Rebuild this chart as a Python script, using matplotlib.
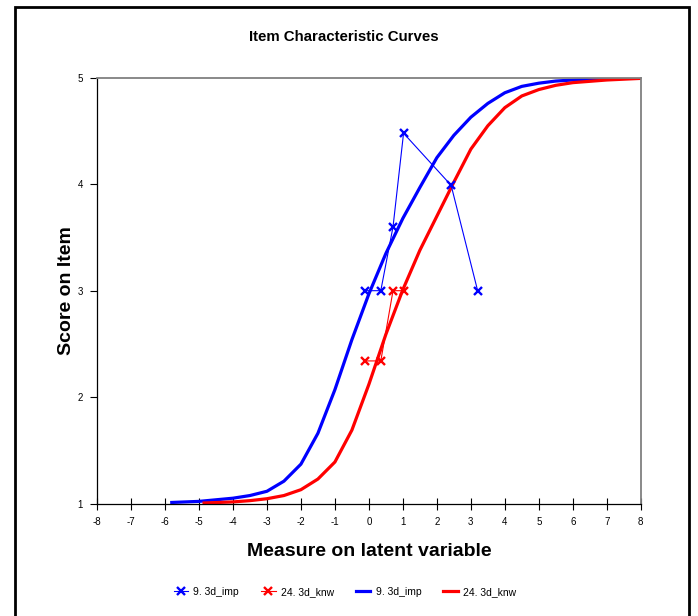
import matplotlib

matplotlib.use("Agg")
import matplotlib.pyplot as plt
from matplotlib.patches import Rectangle

plt.rcParams["font.family"] = ["Liberation Sans", "DejaVu Sans"]
plt.rcParams["axes.unicode_minus"] = False

# observed item scores (crosses joined by thin lines)
obs_imp_x = [-0.1, 0.35, 0.71, 1.02, 2.42, 3.2]
obs_imp_y = [3.0, 3.0, 3.6, 4.48, 3.99, 3.0]
obs_knw_x = [-0.1, 0.35, 0.71, 1.02]
obs_knw_y = [2.34, 2.34, 3.0, 3.0]

# model expected-score curves
icc_imp_x = [-5.8, -5, -4.5, -4, -3.5, -3, -2.5, -2, -1.5, -1, -0.5, 0, 0.5,
             1, 1.5, 2, 2.5, 3, 3.5, 4, 4.5, 5, 5.5, 6, 7, 8]
icc_imp_y = [1.01, 1.02, 1.035, 1.05, 1.075, 1.115, 1.21, 1.37, 1.66, 2.07, 2.54,
             2.97, 3.35, 3.68, 3.97, 4.25, 4.46, 4.63, 4.76, 4.86, 4.92, 4.95,
             4.97, 4.98, 4.995, 5.0]
icc_knw_x = [-4.85, -4, -3.5, -3, -2.5, -2, -1.5, -1, -0.5, 0, 0.5, 1, 1.5, 2,
             2.5, 3, 3.5, 4, 4.5, 5, 5.5, 6, 7, 8]
icc_knw_y = [1.005, 1.015, 1.027, 1.045, 1.075, 1.13, 1.23, 1.39, 1.69, 2.12, 2.59,
             3.01, 3.38, 3.70, 4.02, 4.33, 4.55, 4.72, 4.83, 4.89, 4.93, 4.955,
             4.98, 4.995]

x_ticks = list(range(-8, 9))
y_ticks = [1, 2, 3, 4, 5]
label_imp = "9. 3d_imp"
label_knw = "24. 3d_knw"

fig = plt.figure(figsize=(6.98, 6.16), dpi=100)
ax = fig.add_axes([0.139, 0.1826, 0.779, 0.691])

ax.plot(icc_imp_x, icc_imp_y, color="#0000ff", lw=2.3, label=label_imp, zorder=2)
ax.plot(icc_knw_x, icc_knw_y, color="#ff0000", lw=2.3, label=label_knw, zorder=2)
h1, = ax.plot(obs_imp_x, obs_imp_y, color="#0000ff", lw=0.8, marker="x", ms=5.5,
              mew=1.7, label=label_imp, zorder=3)
h2, = ax.plot(obs_knw_x, obs_knw_y, color="#ff0000", lw=0.8, marker="x", ms=5.5,
              mew=1.7, label=label_knw, zorder=3)

ax.set_xlim(-8, 8)
ax.set_ylim(1, 5)
ax.set_xticks(x_ticks)
ax.set_yticks(y_ticks)
ax.tick_params(axis="x", direction="inout", length=8, width=0.8, labelsize=7, pad=6)
ax.tick_params(axis="y", direction="out", length=5, width=0.8, labelsize=7, pad=5)
for s in ("top", "right"):
    ax.spines[s].set_color("#808080")
    ax.spines[s].set_linewidth(1.3)
for s in ("left", "bottom"):
    ax.spines[s].set_color("black")
    ax.spines[s].set_linewidth(0.9)

ax.set_xlabel("Measure on latent variable", fontsize=14, fontweight="bold", labelpad=11)
ax.set_ylabel("Score on Item", fontsize=14, fontweight="bold", labelpad=2)
fig.text(0.492, 0.94, "Item Characteristic Curves", ha="center", va="center",
         fontsize=10.8, fontweight="bold")

lines = ax.get_lines()
fig.legend([h1, h2, lines[0], lines[1]], [label_imp, label_knw, label_imp, label_knw],
           loc="center", bbox_to_anchor=(0.494, 0.039), ncol=4, frameon=False,
           fontsize=7.5, handlelength=1.4, columnspacing=2.1, handletextpad=0.5)

# outer chart-area frame (runs off the bottom edge)
fig.patches.append(Rectangle((0.0215, -0.02), 0.966, 1.0086, transform=fig.transFigure,
                             fill=False, edgecolor="black", lw=2, zorder=0))

fig.savefig("out.png", dpi=100)
